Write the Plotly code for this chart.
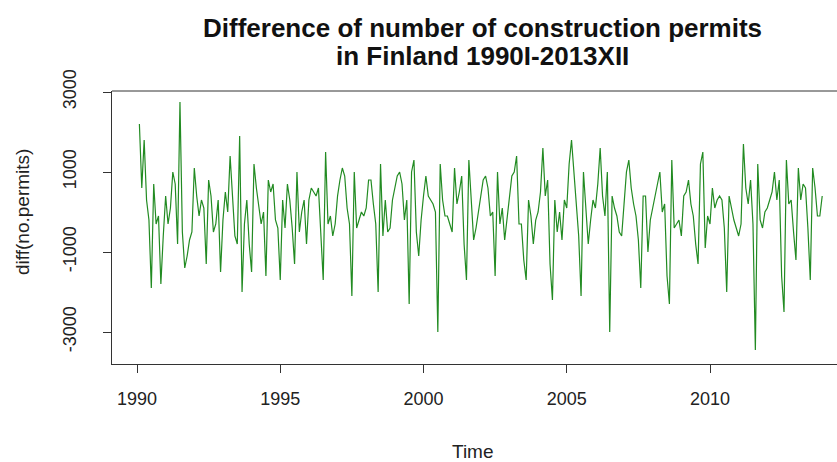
import plotly.graph_objects as go

# Monthly differences, first value = 1990 February, last = 2013 December
start_year = 1990
start_month = 2
diff_permits = [
    2200, 600, 1800, 300, -200, -1900, 700, -300, -100, -1800, -600, 400,
    -300, 100, 1000, 700, -800, 2750, -500, -1400, -1100, -700, -500, 1100,
    400, -100, 300, 100, -1300, 800, 400, -500, -300, 300, -1500, -200,
    500, 0, 1400, 300, -600, -800, 1900, -2000, -300, 300, -800, -1500,
    1200, 600, 100, -300, 0, -1600, 800, 500, 700, -200, -400, -1700,
    300, -400, 700, 300, -400, -1300, 1000, -500, 0, 300, -800, 300,
    600, 500, 400, 600, -400, -1700, 1500, -300, -100, -600, -300, 400,
    800, 1100, 900, 100, -300, -2100, 1000, -400, -200, 0, -100, 100,
    800, 800, 200, -300, -2000, 1200, -600, 300, -500, -400, 300, 600,
    900, 1000, 700, -200, 300, -2300, 1000, 1300, -500, -1100, -200, 400,
    900, 400, 300, 200, 0, -3000, 1200, 300, -100, -100, -300, -500,
    1100, 200, 500, 900, -800, -1700, 1300, 400, -700, -400, 0, 300,
    800, 900, 600, -100, 0, -1600, 1000, -300, 100, -700, -200, 300,
    900, 1000, 1400, -300, -300, -1200, -1700, 300, -100, -800, -200, 0,
    500, 1600, 400, 800, -1300, -2200, 300, -500, 0, -700, 300, 100,
    1200, 1800, 900, 200, -600, -2100, 1000, 200, -800, -200, 300, 100,
    700, 1600, 400, -100, 1000, -3000, 400, 100, -100, -500, -600, 200,
    1000, 1300, 600, 200, -100, -700, -1900, 400, 400, -1000, -200, 100,
    400, 700, 1000, 0, 200, -1600, -2300, 1300, -400, -300, -200, -600,
    400, 500, 800, 200, -100, -800, -1300, 1200, 1500, -900, -100, -300,
    600, 100, 300, 400, 300, -400, -2000, 400, 100, -200, -400, -600,
    -300, 1700, 600, 200, 800, -300, -3450, 1200, -200, -400, 0, 100,
    300, 500, 1000, 300, 800, -1600, -2500, 1300, 200, 300, -500, -1200,
    1100, 300, 700, 600, -400, -1700, 1100, 600, -100, -100, 400,
]
x_ticks = [1990, 1995, 2000, 2005, 2010]
y_ticks = [-3000, -1000, 1000, 3000]
title_lines = ["Difference of number of construction permits", "in Finland 1990I-2013XII"]

times = [start_year + (start_month - 1 + i) / 12 for i in range(len(diff_permits))]

W, H = 837, 462
L, R, T, B = 112, 0, 91, 98
px_per_year = 28.65
x0 = 1990 + (L - 137) / px_per_year
x1 = 1990 + (W - 137) / px_per_year
y_top = (212 - T) / 0.04
y_bot = (212 - (H - B)) / 0.04
PW, PH = W - L - R, H - T - B


def px(xp):
    return (xp - L) / PW


def py(yp):
    return (H - B - yp) / PH


fig = go.Figure()
fig.add_trace(go.Scatter(x=times, y=diff_permits, mode="lines",
                         line=dict(color="#228B22", width=1.2), hoverinfo="skip"))

font = "Liberation Sans, Arial, sans-serif"
fig.update_layout(
    width=W, height=H,
    margin=dict(l=L, r=R, t=T, b=B, pad=0),
    paper_bgcolor="white", plot_bgcolor="white",
    showlegend=False,
    font=dict(family=font, size=18, color="#222"),
    xaxis=dict(range=[x0, x1], tickvals=x_ticks, ticktext=[str(v) for v in x_ticks],
               showgrid=False, zeroline=False, showline=True, linecolor="#333",
               linewidth=1, ticks="outside", ticklen=8, tickcolor="#333",
               ticklabelstandoff=10, tickfont=dict(size=18, color="#222")),
    yaxis=dict(range=[y_bot, y_top], tickvals=y_ticks, ticktext=[str(v) for v in y_ticks],
               showgrid=False, zeroline=False, showline=True, linecolor="#333",
               linewidth=1, ticks="outside", ticklen=8, tickcolor="#333",
               tickangle=-90, ticklabelstandoff=20, tickfont=dict(size=18, color="#222")),
    shapes=[dict(type="line", xref="paper", yref="paper", x0=0, x1=1, y0=1, y1=1,
                 line=dict(color="#333", width=1))],
    annotations=[
        dict(text="<b>%s</b>" % title_lines[0], xref="paper", yref="paper",
             x=px(482), y=py(28), xanchor="center", yanchor="middle", showarrow=False,
             font=dict(size=26, family=font, color="#111")),
        dict(text="<b>%s</b>" % title_lines[1], xref="paper", yref="paper",
             x=px(482), y=py(56), xanchor="center", yanchor="middle", showarrow=False,
             font=dict(size=26, family=font, color="#111")),
        dict(text="Time", xref="paper", yref="paper", x=px(473), y=py(451),
             xanchor="center", yanchor="middle", showarrow=False,
             font=dict(size=19, family=font, color="#222")),
        dict(text="diff(no.permits)", xref="paper", yref="paper", x=px(22), y=py(212),
             xanchor="center", yanchor="middle", textangle=-90, showarrow=False,
             font=dict(size=19, family=font, color="#222")),
    ],
)
fig.write_html("out.html")
